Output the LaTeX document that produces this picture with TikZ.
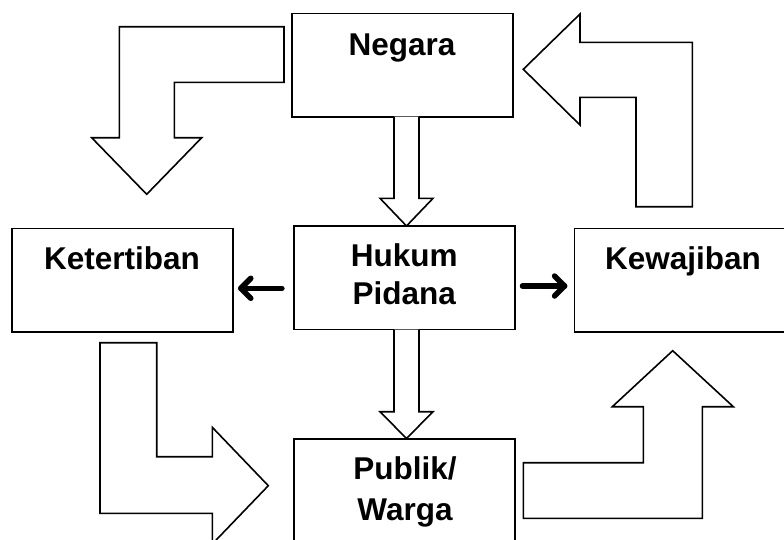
\documentclass[tikz,border=0pt]{standalone}
\usepackage{fontspec}
\setmainfont{Liberation Sans}
\usetikzlibrary{arrows.meta,calc}
\begin{document}
\begin{tikzpicture}[x=1pt,y=-1pt,
  box/.style={draw=black,line width=1.6pt,rectangle,minimum width=221pt,minimum height=103.4pt,inner sep=0pt},
  lbl/.style={anchor=base,inner sep=0pt,font=\fontsize{31.5}{36}\selectfont\bfseries},
  blk/.style={draw=black,line width=1.6pt,fill=white,line join=miter},
  boldline/.style={draw=black,line width=5.5pt,line cap=round,line join=round}]
\useasboundingbox (0,0) rectangle (784,539);
% boxes
\node[box] (neg) at (402.2,65) {};
\node[box] (ket) at (122.5,280) {};
\node[box] (huk) at (404.2,277.8) {};
\node[box,minimum width=217.7pt] (kew) at (683.2,280) {};
\node[box] (pub) at (404.2,490.8) {};
% labels
\node[lbl] (tneg) at (402,55) {Negara};
\node[lbl] (tket) at (122,269.3) {Ketertiban};
\node[lbl] (thuk1) at (404.2,266.7) {Hukum};
\node[lbl] (thuk2) at (404.2,304) {Pidana};
\node[lbl] (tkew) at (683,269.3) {Kewajiban};
\node[lbl] (tpub1) at (405,479.3) {Publik/};
\node[lbl] (tpub2) at (405,520.7) {Warga};
% large block arrows
\draw[blk] (284,26.7) -- (119.3,26.7) -- (119.3,137.7) -- (91.7,137.7) -- (146.7,194.3) -- (201.7,137.7) -- (174.3,137.7) -- (174.3,82.3) -- (284,82.3) -- cycle;
\draw[blk] (692.3,206.7) -- (692.3,42.3) -- (580,42.3) -- (580,14) -- (523.3,69.3) -- (580,125) -- (580,97.3) -- (636,97.3) -- (636,206.7) -- cycle;
\draw[blk] (100,342.7) -- (156.7,342.7) -- (156.7,456.7) -- (212.3,456.7) -- (212.3,427.3) -- (268.3,485.7) -- (212.3,544) -- (212.3,513.3) -- (100,513.3) -- cycle;
\draw[blk] (523.3,518.3) -- (523.3,462.7) -- (643.3,462.7) -- (643.3,406.7) -- (612.3,406.7) -- (672.7,350.7) -- (733.3,406.7) -- (702.3,406.7) -- (702.3,518.3) -- cycle;
% small vertical block arrows
\draw[blk] (394,116.7) -- (394,198.3) -- (380,198.3) -- (406.5,226) -- (433,198.3) -- (419,198.3) -- (419,116.7);
\draw[blk] (394,329.5) -- (394,411.7) -- (380,411.7) -- (406.5,438.5) -- (433,411.7) -- (419,411.7) -- (419,329.5);
% thick small arrows (shaft + chevron head)
\coordinate (la) at ($(huk.west |- 0,288.3)+(-11,0)$);
\coordinate (lb) at ($(ket.east |- 0,288.3)+(7,0)$);
\draw[boldline] (la) -- (lb);
\draw[boldline] ($(lb)+(10,-10)$) -- (lb) -- ($(lb)+(10,10)$);
\coordinate (ra) at ($(huk.east |- 0,286)+(7,0)$);
\coordinate (rb) at ($(kew.west |- 0,286)+(-9,0)$);
\draw[boldline] (ra) -- (rb);
\draw[boldline] ($(rb)+(-10,-10)$) -- (rb) -- ($(rb)+(-10,10)$);
\end{tikzpicture}
\end{document}
